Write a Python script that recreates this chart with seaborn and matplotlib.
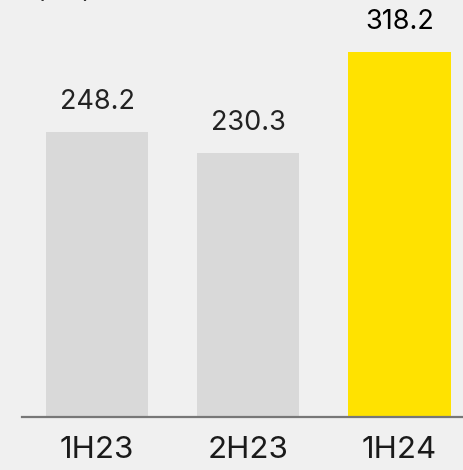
import matplotlib
matplotlib.use('Agg')
import matplotlib.pyplot as plt
import seaborn as sns
import pandas as pd

# ── Datos ─────────────────────────────────────────────────────────────────────
periods = ['1H23', '2H23', '1H24']
values = [248.2, 230.3, 318.2]
bar_colors = ['#d9d9d9', '#d9d9d9', '#ffe200']
unit_label = '(€m)'

df = pd.DataFrame({'period': periods, 'value': values})

sns.set_theme(style='white')
plt.rcParams['font.family'] = ['Inter', 'DejaVu Sans']

fig = plt.figure(figsize=(4.63, 4.70), dpi=100, facecolor='#f0f0f0')
ax = fig.add_axes([22 / 463, 53 / 470, 1 - 22 / 463, 417 / 470])
ax.set_facecolor('#f0f0f0')

sns.barplot(data=df, x='period', y='value', hue='period', palette=bar_colors,
            legend=False, width=0.675, saturation=1, linewidth=0, ax=ax)

ax.set_xlim(-0.497, 2.42)
ax.set_ylim(0, 363.2)

for i, v in enumerate(values):
    ax.annotate(f'{v:.1f}', (i, v), xytext=(0, 12), textcoords='offset points',
                ha='center', va='bottom', fontsize=19.5,
                color='#000000' if i == 2 else '#222222')

for s in ['top', 'right', 'left']:
    ax.spines[s].set_visible(False)
ax.spines['bottom'].set_color('#777777')
ax.spines['bottom'].set_linewidth(1.6)

ax.set_yticks([])
ax.set_xlabel('')
ax.set_ylabel('')
ax.tick_params(axis='x', length=0, pad=14, labelsize=22.5, labelcolor='#1a1a1a')

# unidad: casi toda fuera del borde superior, como en el original
fig.text(35 / 463, 1 - 3 / 470, unit_label, ha='left', va='bottom',
         fontsize=18, color='#333333')

fig.savefig('out.png', dpi=100, facecolor=fig.get_facecolor())
